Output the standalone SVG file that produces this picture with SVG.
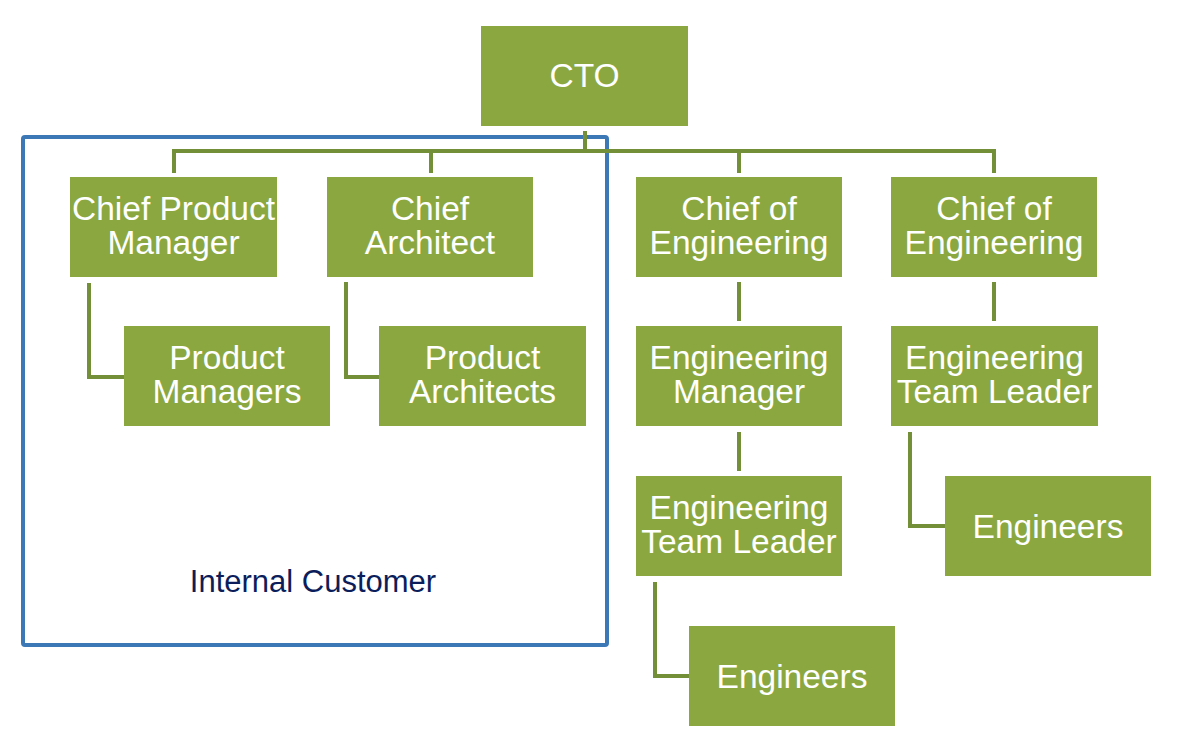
<svg xmlns="http://www.w3.org/2000/svg" width="1178" height="751" viewBox="0 0 1178 751">
<style>
.box{fill:#8aa83f}
.t{font-family:"Liberation Sans",Arial,sans-serif;font-size:33.5px;fill:#ffffff;text-anchor:middle}
.c{fill:none;stroke:#739039;stroke-width:4}
</style>
<rect width="1178" height="751" fill="#ffffff"/>
<g id="internal-customer">
<rect x="23" y="137" width="584" height="508" rx="2" fill="none" stroke="#3b78b5" stroke-width="4"/>
<text x="313" y="592" font-family="Liberation Sans,Arial,sans-serif" font-size="31" fill="#0b1e5b" text-anchor="middle">Internal Customer</text>
</g>
<g id="connectors">
<path class="c" d="M585 131V151M174 173V151H994V173M431 151V173M739 151V173"/>
<path class="c" d="M89 283V377H124"/>
<path class="c" d="M346 282V377H379"/>
<path class="c" d="M739 282V321"/>
<path class="c" d="M994 282V321"/>
<path class="c" d="M739 432V471"/>
<path class="c" d="M910 432V526H945"/>
<path class="c" d="M655 582V676H689"/>
</g>
<g id="cto"><rect class="box" x="481" y="26" width="207" height="100"/><text class="t" x="584.5" y="87">CTO</text></g>
<g id="chief-product-manager"><rect class="box" x="70" y="177" width="207" height="100"/><text class="t" x="173.5" y="220">Chief Product</text><text class="t" x="173.5" y="254">Manager</text></g>
<g id="chief-architect"><rect class="box" x="327" y="177" width="206" height="100"/><text class="t" x="430" y="220">Chief</text><text class="t" x="430" y="254">Architect</text></g>
<g id="chief-of-engineering-1"><rect class="box" x="636" y="177" width="206" height="100"/><text class="t" x="739" y="220">Chief of</text><text class="t" x="739" y="254">Engineering</text></g>
<g id="chief-of-engineering-2"><rect class="box" x="891" y="177" width="206" height="100"/><text class="t" x="994" y="220">Chief of</text><text class="t" x="994" y="254">Engineering</text></g>
<g id="product-managers"><rect class="box" x="124" y="326" width="206" height="100"/><text class="t" x="227" y="369">Product</text><text class="t" x="227" y="403">Managers</text></g>
<g id="product-architects"><rect class="box" x="379" y="326" width="207" height="100"/><text class="t" x="482.5" y="369">Product</text><text class="t" x="482.5" y="403">Architects</text></g>
<g id="engineering-manager"><rect class="box" x="636" y="326" width="206" height="100"/><text class="t" x="739" y="369">Engineering</text><text class="t" x="739" y="403">Manager</text></g>
<g id="engineering-team-leader-2"><rect class="box" x="891" y="326" width="207" height="100"/><text class="t" x="994.5" y="369">Engineering</text><text class="t" x="994.5" y="403">Team Leader</text></g>
<g id="engineering-team-leader-1"><rect class="box" x="636" y="476" width="206" height="100"/><text class="t" x="739" y="519">Engineering</text><text class="t" x="739" y="553">Team Leader</text></g>
<g id="engineers-2"><rect class="box" x="945" y="476" width="206" height="100"/><text class="t" x="1048" y="538">Engineers</text></g>
<g id="engineers-1"><rect class="box" x="689" y="626" width="206" height="100"/><text class="t" x="792" y="688">Engineers</text></g>
</svg>
